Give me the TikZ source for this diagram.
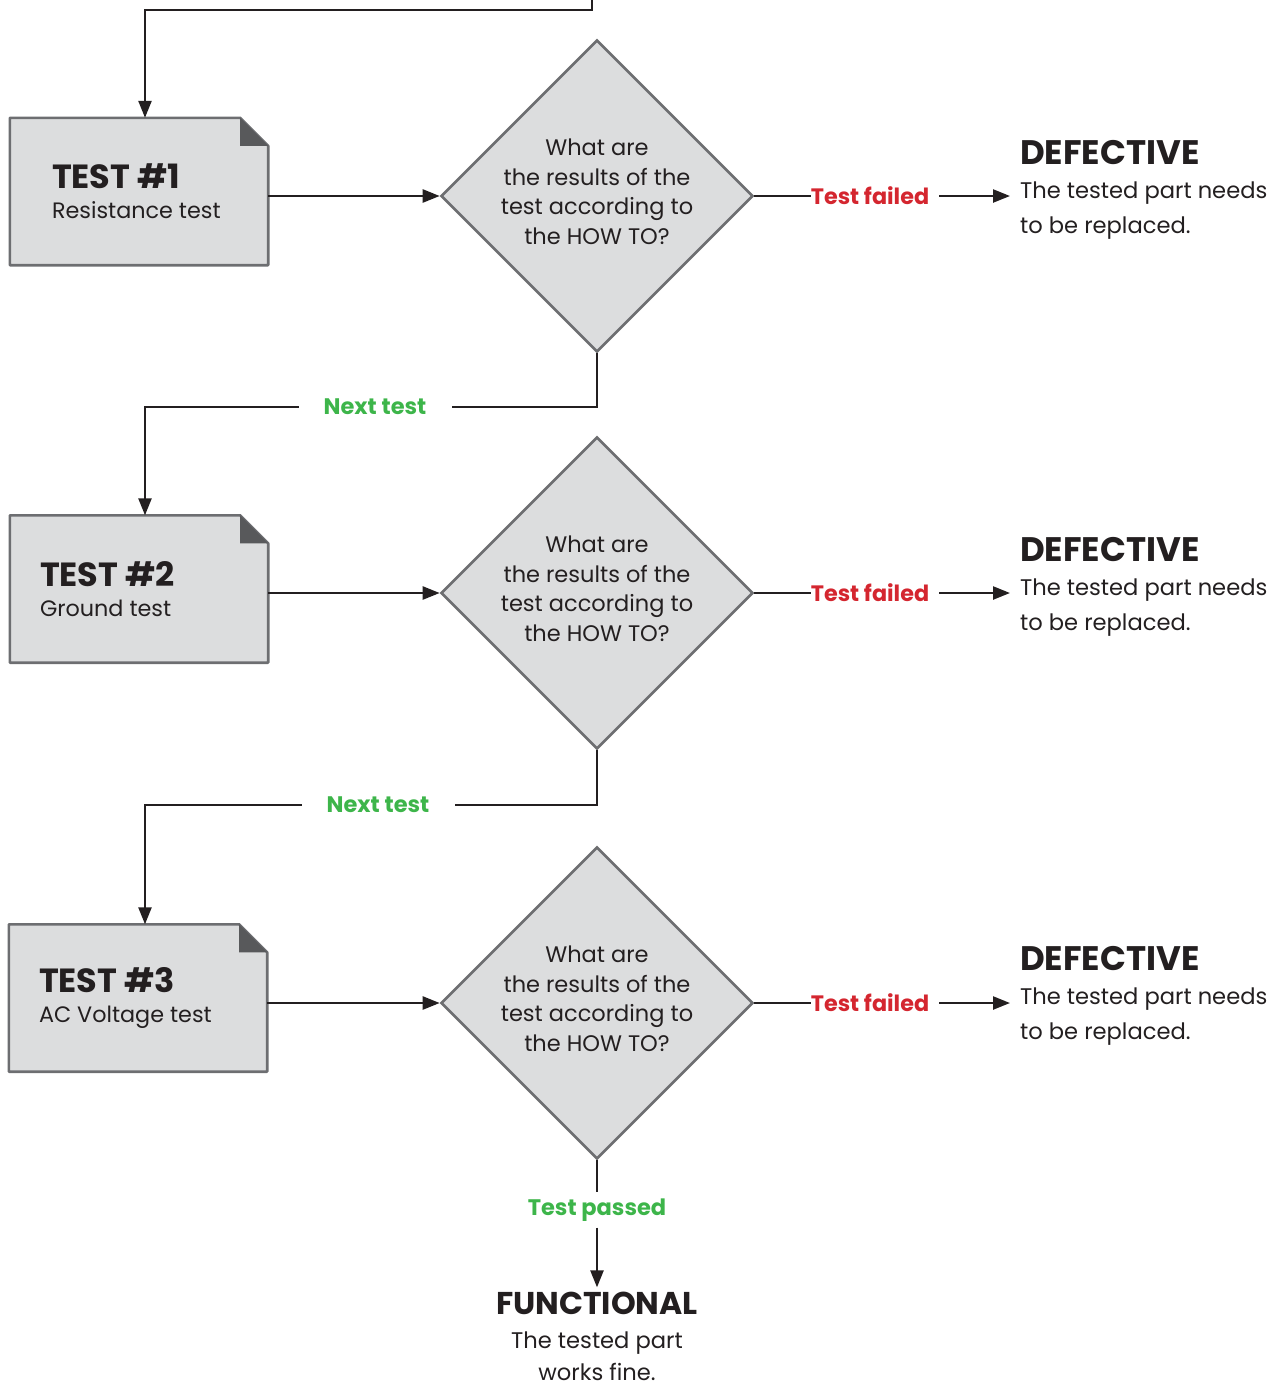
\documentclass[tikz,border=0pt]{standalone}
\usepackage{fontspec}
\setmainfont{Poppins}
\usetikzlibrary{shapes.geometric,arrows.meta}

\definecolor{ink}{HTML}{231F20}
\definecolor{boxgray}{HTML}{DCDDDE}
\definecolor{edgegray}{HTML}{6D6E71}
\definecolor{foldgray}{HTML}{58595B}
\definecolor{failred}{HTML}{D4262F}
\definecolor{passgreen}{HTML}{3DB54A}

\begin{document}
\begin{tikzpicture}[x=1pt,y=-1pt,
  flow/.style={draw=ink,line width=2.4pt,-{Triangle[length=17pt,width=13pt]}},
  wire/.style={draw=ink,line width=2.4pt},
  testbox/.style={rectangle,minimum width=258pt,minimum height=147pt,inner sep=0pt},
  boxline/.style={draw=edgegray,fill=boxgray,line width=2.6pt,line join=round},
  boxtext/.style={anchor=west,align=left,inner sep=0pt,text=ink,font=\fontsize{22.3}{30}\selectfont},
  decision/.style={diamond,aspect=1,draw=edgegray,fill=boxgray,line width=2.6pt,
    minimum width=312pt,minimum height=312pt,inner sep=0pt},
  asktext/.style={align=center,inner sep=0pt,text=ink,font=\fontsize{22.5}{29.5}\selectfont},
  failtag/.style={inner xsep=0pt,text=failred,font=\fontsize{22.3}{26}\selectfont\bfseries},
  nexttag/.style={inner xsep=25pt,text=passgreen,font=\fontsize{22.5}{26}\selectfont\bfseries},
  headtext/.style={anchor=base west,inner sep=0pt,text=ink,font=\fontsize{34}{36}\selectfont\bfseries},
  bodytext/.style={anchor=base west,inner sep=0pt,text=ink,font=\fontsize{22.6}{26}\selectfont}]
\useasboundingbox (0,0) rectangle (1277,1385);

% the three test sheets
\node[testbox] (t1) at (139,191.5) {};
\node[testbox] (t2) at (139,589) {};
\node[testbox] (t3) at (138,998) {};
\foreach \b in {t1,t2,t3} {
  \draw[boxline] (\b.south west) -- (\b.north west) -- ([xshift=-28pt]\b.north east)
    -- ([yshift=-28pt]\b.north east) -- (\b.south east) -- cycle;
  \fill[foldgray] ([xshift=-28pt]\b.north east) -- ([yshift=-28pt]\b.north east)
    -- ([xshift=-28pt,yshift=-28pt]\b.north east) -- cycle;
}
\node[boxtext] (t1txt) at ([xshift=42pt]t1.west)
  {{\fontsize{33.5}{30}\selectfont\bfseries TEST \#1}\\ Resistance test};
\node[boxtext] (t2txt) at ([xshift=30pt]t2.west)
  {{\fontsize{33.5}{30}\selectfont\bfseries TEST \#2}\\ Ground test};
\node[boxtext] (t3txt) at ([xshift=30pt]t3.west)
  {{\fontsize{33.5}{30}\selectfont\bfseries TEST \#3}\\ AC Voltage test};

% the questions
\node[decision] (d1) at (597,196) {};
\node[decision] (d2) at (597,593) {};
\node[decision] (d3) at (597,1003) {};
\node[asktext] (q1) at ([yshift=4pt]d1.center) {What are\\ the results of the\\ test according to\\ the HOW TO?};
\node[asktext] (q2) at ([yshift=4pt]d2.center) {What are\\ the results of the\\ test according to\\ the HOW TO?};
\node[asktext] (q3) at ([yshift=4pt]d3.center) {What are\\ the results of the\\ test according to\\ the HOW TO?};

% failed branch
\node[failtag] (f1) at (870,196) {Test failed};
\node[failtag] (f2) at (870,593) {Test failed};
\node[failtag] (f3) at (870,1003) {Test failed};
\node[headtext] (def1) at (1020,164) {DEFECTIVE};
\node[bodytext] (def1a) at (1020,198) {The tested part needs};
\node[bodytext] (def1b) at (1020,233) {to be replaced.};
\node[headtext] (def2) at (1020,561) {DEFECTIVE};
\node[bodytext] (def2a) at (1020,595) {The tested part needs};
\node[bodytext] (def2b) at (1020,630) {to be replaced.};
\node[headtext] (def3) at (1020,970) {DEFECTIVE};
\node[bodytext] (def3a) at (1020,1004) {The tested part needs};
\node[bodytext] (def3b) at (1020,1039) {to be replaced.};

% next test and passed
\node[nexttag] (nx1) at (375,407) {Next test};
\node[nexttag] (nx2) at (378,805) {Next test};
\node[text=passgreen,font=\fontsize{22.5}{26}\selectfont\bfseries,inner ysep=6pt] (tp) at (597,1210) {Test passed};
\node[font=\fontsize{31.5}{34}\selectfont\bfseries,text=ink,anchor=base,inner sep=0pt] (fn) at (597,1314) {FUNCTIONAL};
\node[font=\fontsize{22.6}{26}\selectfont,text=ink,anchor=base,inner sep=0pt] (fna) at (597,1348) {The tested part};
\node[font=\fontsize{22.6}{26}\selectfont,text=ink,anchor=base,inner sep=0pt] (fnb) at (597,1380) {works fine.};

% connectors
\coordinate (start) at (592,0);
\draw[flow] (start) -- ++(0,10) -| ([xshift=6pt]t1.north);
\draw[flow] (t1.east |- d1.west) -- (d1.west);
\draw[flow] (t2.east |- d2.west) -- (d2.west);
\draw[flow] (t3.east |- d3.west) -- (d3.west);
\draw[wire] (d1.east) -- (f1.west);
\draw[wire] (d2.east) -- (f2.west);
\draw[wire] (d3.east) -- (f3.west);
\draw[flow,shorten <=10pt,shorten >=10pt] (f1.east) -- (f1.east -| def1.west);
\draw[flow,shorten <=10pt,shorten >=10pt] (f2.east) -- (f2.east -| def2.west);
\draw[flow,shorten <=10pt,shorten >=10pt] (f3.east) -- (f3.east -| def3.west);
\draw[wire] (d1.south) |- (nx1.east);
\draw[flow] (nx1.west) -| ([xshift=6pt]t2.north);
\draw[wire] (d2.south) |- (nx2.east);
\draw[flow] (nx2.west) -| ([xshift=7pt]t3.north);
\draw[wire] (d3.south) -- (tp.north);
\draw[flow] (tp.south) -- ([yshift=4pt]fn.north);
\end{tikzpicture}
\end{document}
